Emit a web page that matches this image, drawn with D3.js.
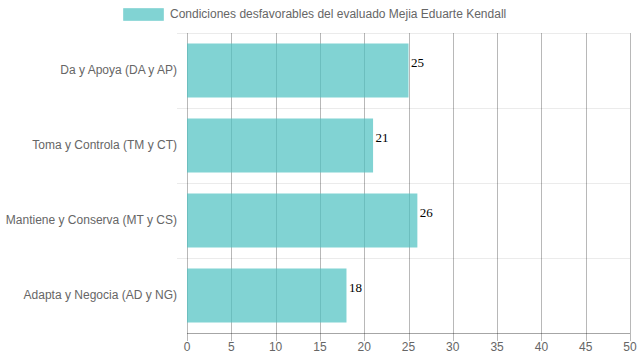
<!DOCTYPE html>
<html lang="es">
<head>
  <meta charset="UTF-8">
  <title>Condiciones desfavorables</title>
  <script src="https://d3js.org/d3.v7.min.js"></script>
  <style>
    html, body { margin: 0; padding: 0; background: #fff; overflow: hidden; }
    svg { display: block; font-family: "Liberation Sans", Arial, sans-serif; }
  </style>
</head>
<body>
<svg id="chart" width="639" height="360"></svg>
<script>
  const categories = [
    "Da y Apoya (DA y AP)",
    "Toma y Controla (TM y CT)",
    "Mantiene y Conserva (MT y CS)",
    "Adapta y Negocia (AD y NG)"
  ];
  const values = [25, 21, 26, 18];
  const xTicks = [0, 5, 10, 15, 20, 25, 30, 35, 40, 45, 50];
  const seriesName = "Condiciones desfavorables del evaluado Mejia Eduarte Kendall";

  const svg = d3.select("#chart");
  const margin = {top: 33, right: 9, bottom: 27, left: 187};
  const width = 639 - margin.left - margin.right;
  const height = 360 - margin.top - margin.bottom;

  const x = d3.scaleLinear().domain([0, 50]).range([margin.left, margin.left + width]);
  const y = d3.scaleBand().domain(categories).range([margin.top, margin.top + height]);
  const barH = y.bandwidth() * 0.72;

  // horizontal grid (band borders) with short ticks on the left
  const borders = categories.map(c => y(c));
  svg.append("g")
    .selectAll("line")
    .data(borders)
    .join("line")
    .attr("x1", margin.left - 10)
    .attr("x2", margin.left + width)
    .attr("y1", d => Math.round(d) + 0.5)
    .attr("y2", d => Math.round(d) + 0.5)
    .attr("stroke", "rgba(0,0,0,0.08)");

  // vertical grid
  svg.append("g")
    .selectAll("line")
    .data(xTicks)
    .join("line")
    .attr("x1", d => Math.round(x(d)) + 0.5)
    .attr("x2", d => Math.round(x(d)) + 0.5)
    .attr("y1", margin.top)
    .attr("y2", margin.top + height + 8)
    .attr("stroke", "rgba(0,0,0,0.28)");

  // bottom axis line
  svg.append("line")
    .attr("x1", margin.left)
    .attr("x2", margin.left + width)
    .attr("y1", margin.top + height + 0.5)
    .attr("y2", margin.top + height + 0.5)
    .attr("stroke", "rgba(0,0,0,0.35)");

  // bars
  svg.append("g")
    .selectAll("rect")
    .data(values)
    .join("rect")
    .attr("x", x(0))
    .attr("y", (d, i) => y(categories[i]) + (y.bandwidth() - barH) / 2)
    .attr("width", d => x(d) - x(0))
    .attr("height", barH)
    .attr("fill", "rgba(75,192,192,0.7)");

  // value labels
  svg.append("g")
    .selectAll("text")
    .data(values)
    .join("text")
    .attr("x", d => x(d) + 2.5)
    .attr("y", (d, i) => y(categories[i]) + y.bandwidth() / 2 - 6)
    .attr("dominant-baseline", "middle")
    .attr("font-family", "'Liberation Serif', 'Times New Roman', serif")
    .attr("font-size", "13px")
    .attr("fill", "#000")
    .text(d => d);

  // y labels
  svg.append("g")
    .selectAll("text")
    .data(categories)
    .join("text")
    .attr("x", margin.left - 10)
    .attr("y", d => y(d) + y.bandwidth() / 2)
    .attr("text-anchor", "end")
    .attr("dominant-baseline", "middle")
    .attr("font-size", "12px")
    .attr("fill", "#666")
    .text(d => d);

  // x tick labels
  svg.append("g")
    .selectAll("text")
    .data(xTicks)
    .join("text")
    .attr("x", d => x(d))
    .attr("y", margin.top + height + 15)
    .attr("text-anchor", "middle")
    .attr("dominant-baseline", "middle")
    .attr("font-size", "12px")
    .attr("fill", "#666")
    .text(d => d);

  // legend
  const legend = svg.append("g");
  legend.append("rect")
    .attr("x", 123.5).attr("y", 8.5)
    .attr("width", 40).attr("height", 12)
    .attr("fill", "rgba(75,192,192,0.7)")
    .attr("stroke", "rgba(75,192,192,0.35)");
  legend.append("text")
    .attr("x", 170)
    .attr("y", 15)
    .attr("dominant-baseline", "middle")
    .attr("font-size", "12px")
    .attr("fill", "#666")
    .text(seriesName);
</script>
</body>
</html>
